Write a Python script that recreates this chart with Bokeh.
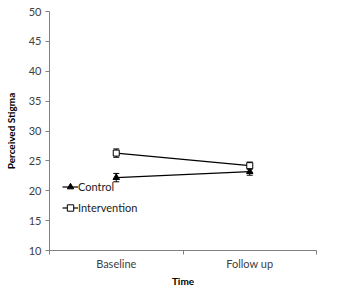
from bokeh.plotting import figure
from bokeh.models import (Range1d, FixedTicker, ColumnDataSource, Whisker, TeeHead,
                          Legend, LegendItem)
from bokeh.embed import file_html
from bokeh.resources import INLINE

# Perceived stigma by time point (mean ± SE)
times = ["Baseline", "Follow up"]
control_mean = [22.2, 23.2]
control_err = [0.7, 0.6]
intervention_mean = [26.3, 24.2]
intervention_err = [0.7, 0.6]
y_ticks = [10, 15, 20, 25, 30, 35, 40, 45, 50]

FONT = "Lato"
xpos = [i + 0.5 for i in range(len(times))]

p = figure(width=347, height=296, output_backend="svg", toolbar_location=None,
           x_range=Range1d(0, len(times)), y_range=Range1d(10, 50),
           min_border_left=49, min_border_right=31, min_border_top=11,
           min_border_bottom=46)
p.outline_line_color = None
p.grid.grid_line_color = None
p.background_fill_color = "white"

def series_source(mean, err):
    return ColumnDataSource(dict(
        x=xpos, y=mean,
        lo=[m - e for m, e in zip(mean, err)],
        hi=[m + e for m, e in zip(mean, err)],
    ))

src_c = series_source(control_mean, control_err)
src_i = series_source(intervention_mean, intervention_err)

for src in (src_c, src_i):
    p.add_layout(Whisker(source=src, base="x", lower="lo", upper="hi",
                         line_color="black", line_width=1,
                         upper_head=TeeHead(size=6, line_color="black", line_width=1),
                         lower_head=TeeHead(size=6, line_color="black", line_width=1)))

lc = p.line("x", "y", source=src_c, line_color="black", line_width=1.2)
mc = p.scatter("x", "y", source=src_c, marker="triangle", size=6.5,
               fill_color="black", line_color="black")
li = p.line("x", "y", source=src_i, line_color="black", line_width=1.2)
mi = p.scatter("x", "y", source=src_i, marker="square", size=6,
               fill_color="white", line_color="black", line_width=1)

legend = Legend(items=[LegendItem(label="Control", renderers=[lc, mc]),
                       LegendItem(label="Intervention", renderers=[li, mi])],
                location=(13, 32), orientation="vertical",
                border_line_color=None, background_fill_alpha=0,
                padding=0, margin=0, spacing=0,
                glyph_width=16, glyph_height=21, label_height=21,
                label_standoff=0,
                label_text_font=FONT, label_text_font_size="11px",
                label_text_color="#222222")
p.add_layout(legend)

# y axis
p.yaxis.ticker = FixedTicker(ticks=y_ticks, minor_ticks=[])
p.yaxis.axis_label = "Perceived Stigma"
p.yaxis.axis_label_text_font = FONT
p.yaxis.axis_label_text_font_style = "bold"
p.yaxis.axis_label_text_font_size = "10px"
p.yaxis.axis_label_standoff = 9

# x axis: labels centred on categories, ticks on category boundaries
p.xaxis.ticker = FixedTicker(ticks=xpos, minor_ticks=list(range(len(times) + 1)))
p.xaxis.major_label_overrides = {x: t for x, t in zip(xpos, times)}
p.xaxis.major_tick_line_color = None
p.xaxis.major_tick_out = 0
p.xaxis.major_tick_in = 0
p.xaxis.minor_tick_out = 4
p.xaxis.minor_tick_in = 0
p.xaxis.axis_label = "Time"
p.xaxis.axis_label_text_font = FONT
p.xaxis.axis_label_text_font_style = "bold"
p.xaxis.axis_label_text_font_size = "10px"
p.xaxis.axis_label_standoff = 2
p.xaxis.major_label_standoff = 2

for ax in (p.xaxis, p.yaxis):
    ax.axis_line_color = "#808080"
    ax.major_label_text_font = FONT
    ax.major_label_text_font_size = "11px"
    ax.major_label_text_color = "#404040"
    ax.axis_label_text_color = "black"
p.xaxis.minor_tick_line_color = "#808080"
p.yaxis.major_tick_line_color = "#808080"
p.yaxis.major_tick_out = 4
p.yaxis.major_tick_in = 0
p.yaxis.minor_tick_line_color = None
p.yaxis.major_label_standoff = 4

open("out.html", "w").write(file_html(p, INLINE))
